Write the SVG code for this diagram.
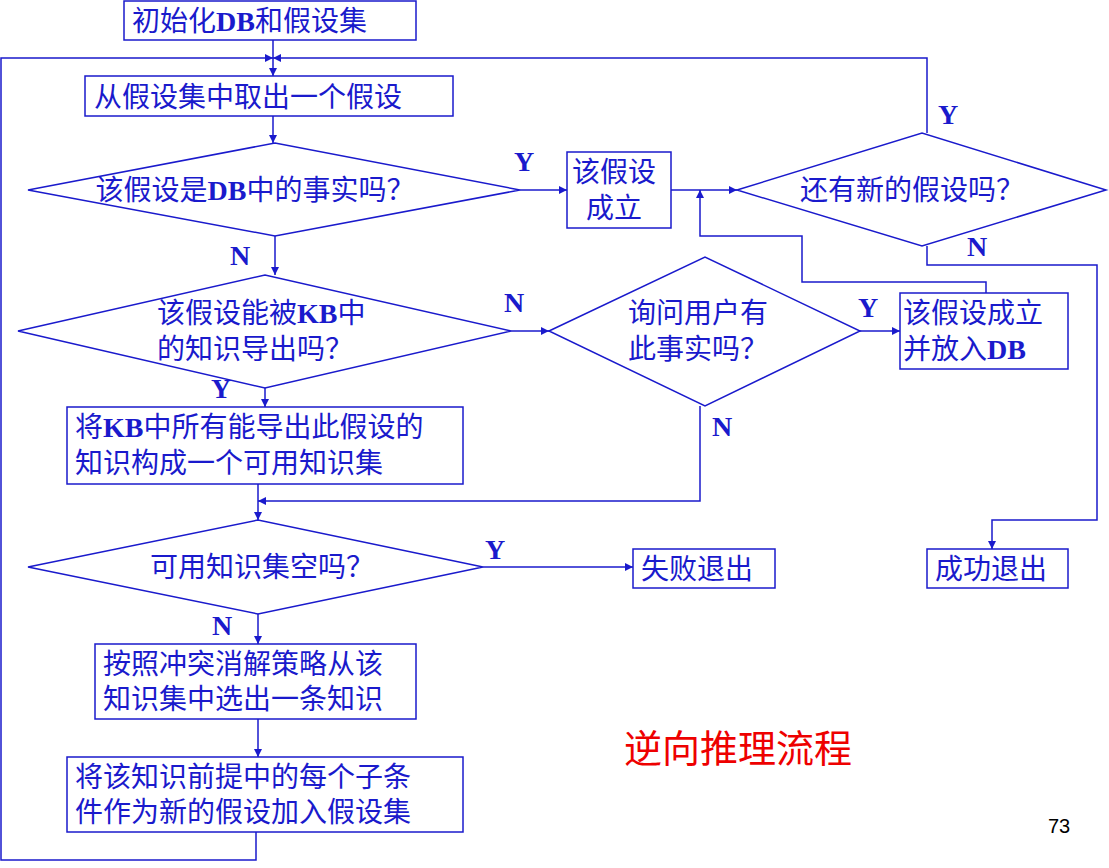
<svg xmlns="http://www.w3.org/2000/svg" width="1109" height="868" viewBox="0 0 1109 868">
<style>
.s{fill:#fff;stroke:#1a1acc;stroke-width:1.5}
.l{fill:none;stroke:#1a1acc;stroke-width:1.5}
text{font-family:"Liberation Serif","Noto Sans CJK SC",serif;font-size:28px;fill:#1a1acc}
.b{font-weight:bold}
.m{text-anchor:middle}
</style>
<defs><marker id="a" viewBox="0 0 10 10" refX="10" refY="5" markerWidth="8" markerHeight="8" markerUnits="userSpaceOnUse" orient="auto"><path d="M0,0L10,5L0,10z" fill="#1a1acc"/></marker></defs>
<rect width="1109" height="868" fill="#fff"/>
<g id="connectors" class="l" marker-end="url(#a)">
<path d="M273,40V76"/>
<path d="M927,133V58H273"/>
<path d="M273,116V143"/>
<path d="M520,190H567"/>
<path d="M671,190H737"/>
<path d="M986,293V282H802V236H700V190"/>
<path d="M927,246V265H1097V520H992V549"/>
<path d="M275,236V275"/>
<path d="M511,331H549"/>
<path d="M860,331H900"/>
<path d="M265,388V407"/>
<path d="M700,406V501H258"/>
<path d="M258,484V520"/>
<path d="M483,567H633"/>
<path d="M258,614V644"/>
<path d="M258,719V757"/>
<path d="M256,832V860H1V58H273"/>
</g>
<g id="n1"><rect class="s" x="124" y="1" width="292" height="39"/><text x="132" y="31">初始化<tspan class="b">DB</tspan>和假设集</text></g>
<g id="n2"><rect class="s" x="85" y="76" width="368" height="40"/><text x="94" y="107">从假设集中取出一个假设</text></g>
<g id="d1"><path class="s" d="M28,190L275,143L520,190L275,236z"/><text x="255" y="200" class="m">该假设是<tspan class="b">DB</tspan>中的事实吗？</text></g>
<g id="n3"><rect class="s" x="567" y="152" width="104" height="76"/><text x="572" y="182">该假设</text><text x="586" y="218">成立</text></g>
<g id="d4"><path class="s" d="M737,190L922,133L1106,190L922,246z"/><text x="912" y="200" class="m">还有新的假设吗？</text></g>
<g id="d2"><path class="s" d="M18,331L265,275L511,331L265,388z"/><text x="157" y="323">该假设能被<tspan class="b">KB</tspan>中</text><text x="157" y="359">的知识导出吗？</text></g>
<g id="d3"><path class="s" d="M549,331L705,257L860,331L705,406z"/><text x="628" y="323">询问用户有</text><text x="628" y="359">此事实吗？</text></g>
<g id="n4"><rect class="s" x="900" y="293" width="168" height="76"/><text x="903" y="323">该假设成立</text><text x="903" y="359">并放入<tspan class="b">DB</tspan></text></g>
<g id="n5"><rect class="s" x="67" y="407" width="396" height="77"/><text x="75" y="437">将<tspan class="b">KB</tspan>中所有能导出此假设的</text><text x="75" y="473">知识构成一个可用知识集</text></g>
<g id="d5"><path class="s" d="M28,567L258,520L483,567L258,614z"/><text x="262" y="577" class="m">可用知识集空吗？</text></g>
<g id="n6"><rect class="s" x="633" y="549" width="142" height="39"/><text x="641" y="579">失败退出</text></g>
<g id="n7"><rect class="s" x="927" y="549" width="141" height="39"/><text x="935" y="579">成功退出</text></g>
<g id="n8"><rect class="s" x="95" y="644" width="321" height="75"/><text x="103" y="674">按照冲突消解策略从该</text><text x="103" y="709">知识集中选出一条知识</text></g>
<g id="n9"><rect class="s" x="67" y="757" width="396" height="75"/><text x="75" y="787">将该知识前提中的每个子条</text><text x="75" y="822">件作为新的假设加入假设集</text></g>
<g style="font-size:26px">
<text x="514" y="171" class="b">Y</text><text x="938" y="124" class="b">Y</text><text x="967" y="256" class="b">N</text>
<text x="230" y="265" class="b">N</text><text x="504" y="312" class="b">N</text><text x="858" y="317" class="b">Y</text>
<text x="211" y="398" class="b">Y</text><text x="712" y="436" class="b">N</text><text x="485" y="559" class="b">Y</text><text x="212" y="635" class="b">N</text>
</g>
<text x="624" y="762" style="font-size:38px;fill:#ee0000">逆向推理流程</text>
<text x="1048" y="833" style="font-size:20px;font-family:'Liberation Sans',sans-serif;fill:#000">73</text>
</svg>
